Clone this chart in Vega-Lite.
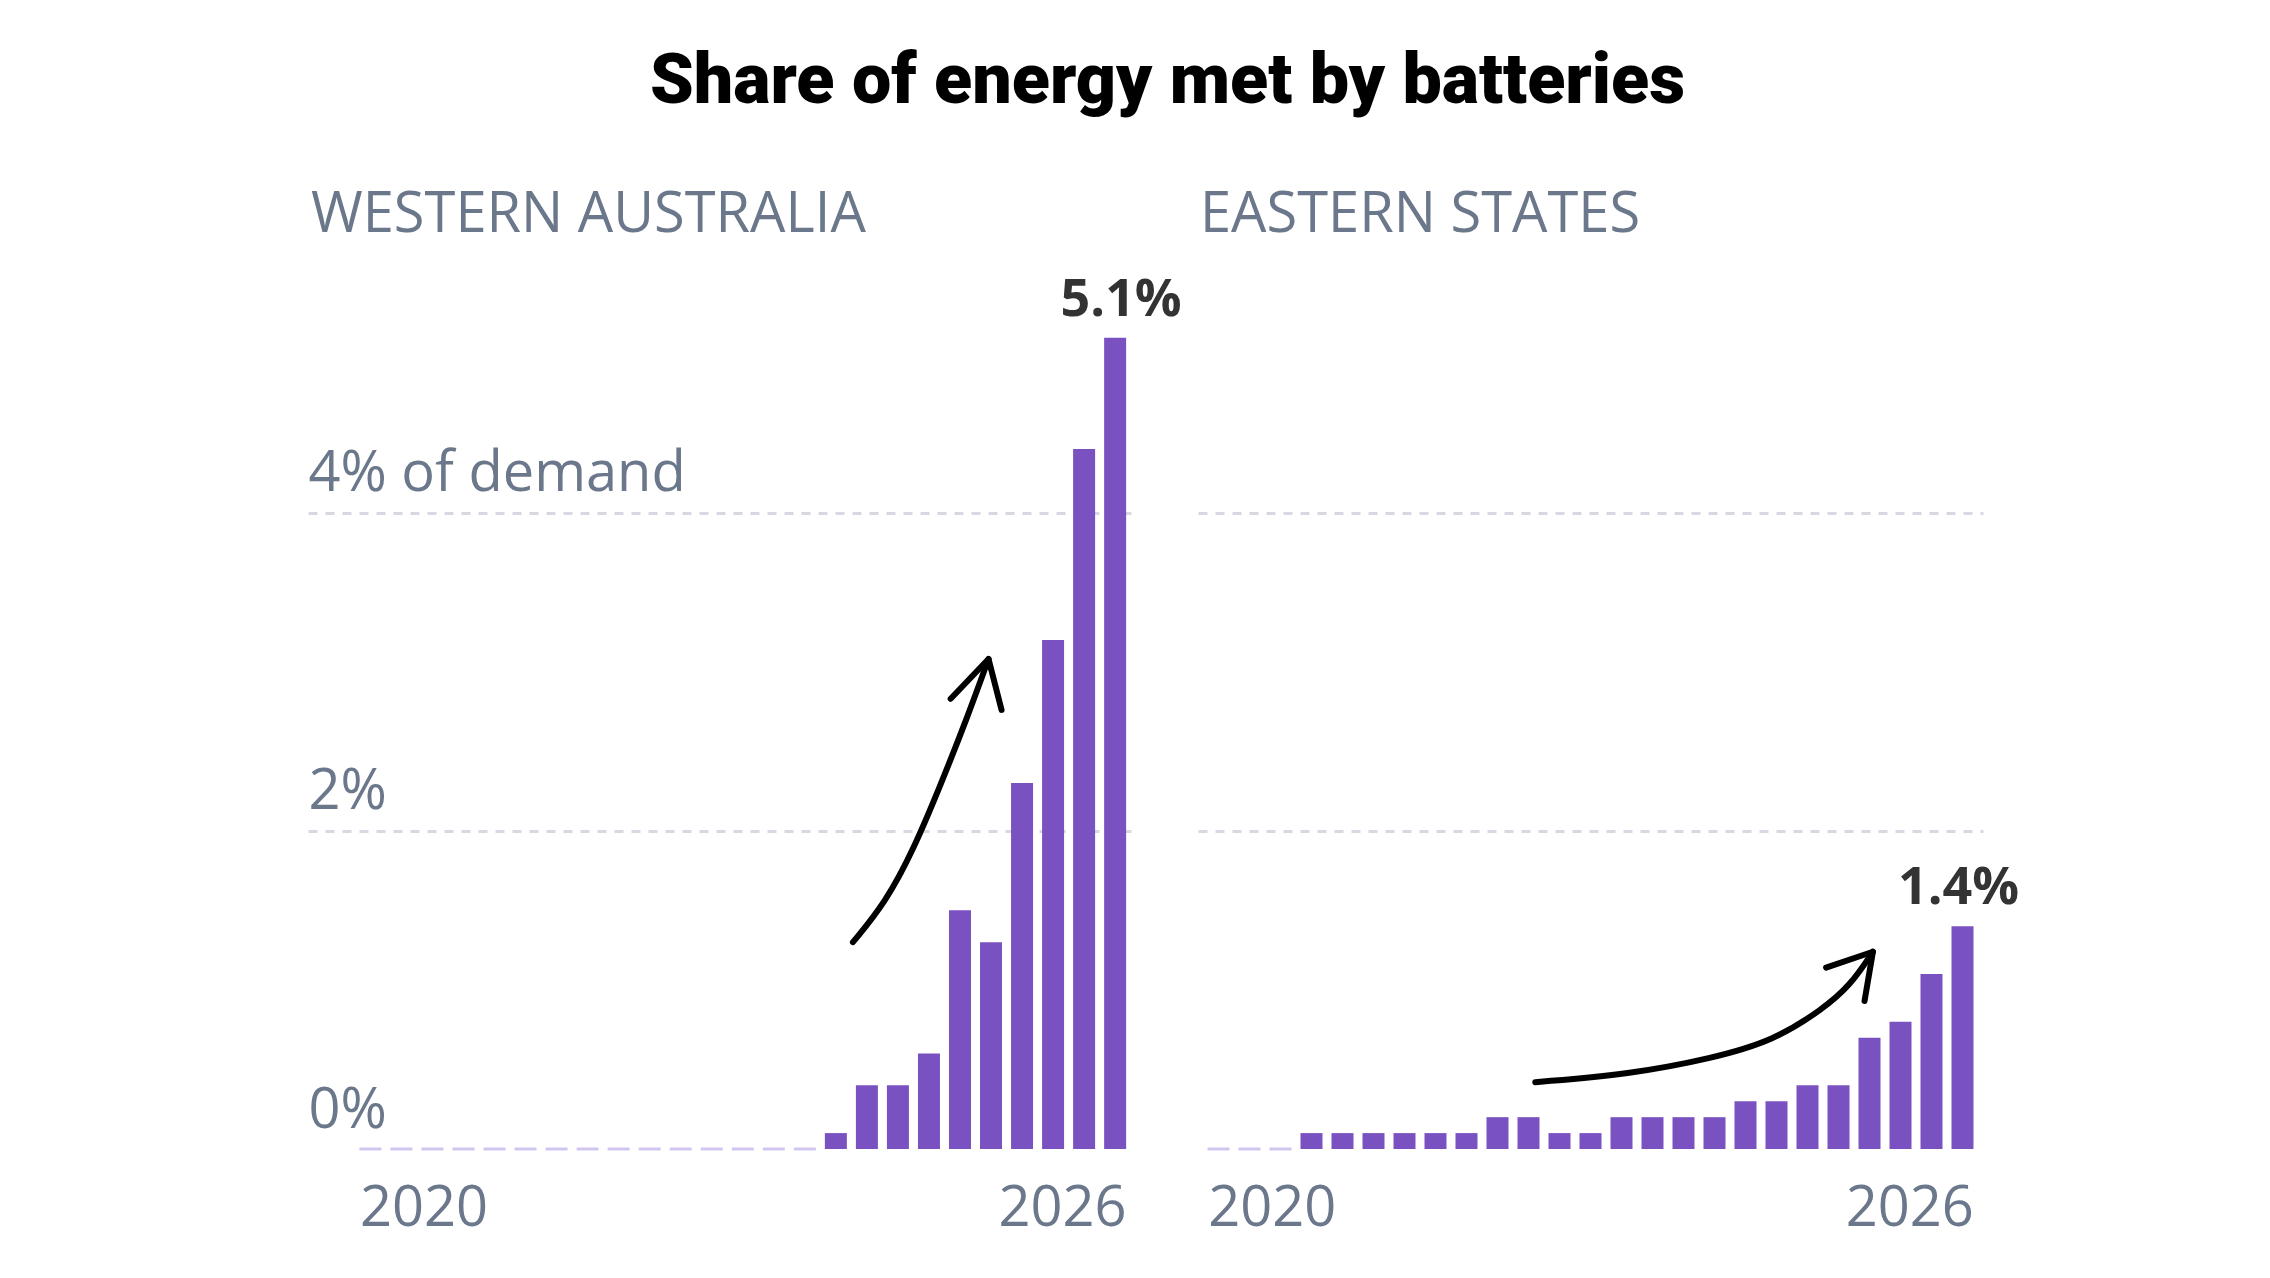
{
  "$schema": "https://vega.github.io/schema/vega-lite/v6.json",
  "description": "Share of energy met by batteries, Western Australia vs eastern states, quarterly 2020-2026.",
  "padding": {"left": 308, "top": 46, "right": 10, "bottom": 20},
  "background": "white",
  "title": {
    "text": "Share of energy met by batteries",
    "font": "Roboto",
    "fontSize": 70,
    "fontWeight": 900,
    "color": "#000000",
    "anchor": "middle",
    "baseline": "alphabetic",
    "dx": 4,
    "offset": 14
  },
  "datasets": {
    "bars": [
      {"region": "Western Australia", "quarter": "2020 Q1", "q": 0, "share": 0},
      {"region": "Western Australia", "quarter": "2020 Q2", "q": 1, "share": 0},
      {"region": "Western Australia", "quarter": "2020 Q3", "q": 2, "share": 0},
      {"region": "Western Australia", "quarter": "2020 Q4", "q": 3, "share": 0},
      {"region": "Western Australia", "quarter": "2021 Q1", "q": 4, "share": 0},
      {"region": "Western Australia", "quarter": "2021 Q2", "q": 5, "share": 0},
      {"region": "Western Australia", "quarter": "2021 Q3", "q": 6, "share": 0},
      {"region": "Western Australia", "quarter": "2021 Q4", "q": 7, "share": 0},
      {"region": "Western Australia", "quarter": "2022 Q1", "q": 8, "share": 0},
      {"region": "Western Australia", "quarter": "2022 Q2", "q": 9, "share": 0},
      {"region": "Western Australia", "quarter": "2022 Q3", "q": 10, "share": 0},
      {"region": "Western Australia", "quarter": "2022 Q4", "q": 11, "share": 0},
      {"region": "Western Australia", "quarter": "2023 Q1", "q": 12, "share": 0},
      {"region": "Western Australia", "quarter": "2023 Q2", "q": 13, "share": 0},
      {"region": "Western Australia", "quarter": "2023 Q3", "q": 14, "share": 0},
      {"region": "Western Australia", "quarter": "2023 Q4", "q": 15, "share": 0.1},
      {"region": "Western Australia", "quarter": "2024 Q1", "q": 16, "share": 0.4},
      {"region": "Western Australia", "quarter": "2024 Q2", "q": 17, "share": 0.4},
      {"region": "Western Australia", "quarter": "2024 Q3", "q": 18, "share": 0.6},
      {"region": "Western Australia", "quarter": "2024 Q4", "q": 19, "share": 1.5},
      {"region": "Western Australia", "quarter": "2025 Q1", "q": 20, "share": 1.3},
      {"region": "Western Australia", "quarter": "2025 Q2", "q": 21, "share": 2.3},
      {"region": "Western Australia", "quarter": "2025 Q3", "q": 22, "share": 3.2},
      {"region": "Western Australia", "quarter": "2025 Q4", "q": 23, "share": 4.4},
      {"region": "Western Australia", "quarter": "2026 Q1", "q": 24, "share": 5.1, "label": "5.1%"},
      {"region": "Eastern states", "quarter": "2020 Q1", "q": 0, "share": 0},
      {"region": "Eastern states", "quarter": "2020 Q2", "q": 1, "share": 0},
      {"region": "Eastern states", "quarter": "2020 Q3", "q": 2, "share": 0},
      {"region": "Eastern states", "quarter": "2020 Q4", "q": 3, "share": 0.1},
      {"region": "Eastern states", "quarter": "2021 Q1", "q": 4, "share": 0.1},
      {"region": "Eastern states", "quarter": "2021 Q2", "q": 5, "share": 0.1},
      {"region": "Eastern states", "quarter": "2021 Q3", "q": 6, "share": 0.1},
      {"region": "Eastern states", "quarter": "2021 Q4", "q": 7, "share": 0.1},
      {"region": "Eastern states", "quarter": "2022 Q1", "q": 8, "share": 0.1},
      {"region": "Eastern states", "quarter": "2022 Q2", "q": 9, "share": 0.2},
      {"region": "Eastern states", "quarter": "2022 Q3", "q": 10, "share": 0.2},
      {"region": "Eastern states", "quarter": "2022 Q4", "q": 11, "share": 0.1},
      {"region": "Eastern states", "quarter": "2023 Q1", "q": 12, "share": 0.1},
      {"region": "Eastern states", "quarter": "2023 Q2", "q": 13, "share": 0.2},
      {"region": "Eastern states", "quarter": "2023 Q3", "q": 14, "share": 0.2},
      {"region": "Eastern states", "quarter": "2023 Q4", "q": 15, "share": 0.2},
      {"region": "Eastern states", "quarter": "2024 Q1", "q": 16, "share": 0.2},
      {"region": "Eastern states", "quarter": "2024 Q2", "q": 17, "share": 0.3},
      {"region": "Eastern states", "quarter": "2024 Q3", "q": 18, "share": 0.3},
      {"region": "Eastern states", "quarter": "2024 Q4", "q": 19, "share": 0.4},
      {"region": "Eastern states", "quarter": "2025 Q1", "q": 20, "share": 0.4},
      {"region": "Eastern states", "quarter": "2025 Q2", "q": 21, "share": 0.7},
      {"region": "Eastern states", "quarter": "2025 Q3", "q": 22, "share": 0.8},
      {"region": "Eastern states", "quarter": "2025 Q4", "q": 23, "share": 1.1},
      {"region": "Eastern states", "quarter": "2026 Q1", "q": 24, "share": 1.4, "label": "1.4%"}
    ],
    "arrows": [
      {"region": "Western Australia", "part": "shaft", "step": 1, "q": 15.55, "share": 1.3},
      {"region": "Western Australia", "part": "shaft", "step": 2, "q": 16.6, "share": 1.55},
      {"region": "Western Australia", "part": "shaft", "step": 3, "q": 17.5, "share": 1.88},
      {"region": "Western Australia", "part": "shaft", "step": 4, "q": 18.4, "share": 2.3},
      {"region": "Western Australia", "part": "shaft", "step": 5, "q": 19.25, "share": 2.72},
      {"region": "Western Australia", "part": "shaft", "step": 6, "q": 19.92, "share": 3.08},
      {"region": "Western Australia", "part": "head", "step": 1, "q": 18.7, "share": 2.83},
      {"region": "Western Australia", "part": "head", "step": 2, "q": 19.92, "share": 3.08},
      {"region": "Western Australia", "part": "head", "step": 3, "q": 20.34, "share": 2.76},
      {"region": "Eastern states", "part": "shaft", "step": 1, "q": 10.22, "share": 0.42},
      {"region": "Eastern states", "part": "shaft", "step": 2, "q": 13.26, "share": 0.47},
      {"region": "Eastern states", "part": "shaft", "step": 3, "q": 15.92, "share": 0.57},
      {"region": "Eastern states", "part": "shaft", "step": 4, "q": 17.9, "share": 0.68},
      {"region": "Eastern states", "part": "shaft", "step": 5, "q": 19.5, "share": 0.88},
      {"region": "Eastern states", "part": "shaft", "step": 6, "q": 20.39, "share": 1.03},
      {"region": "Eastern states", "part": "shaft", "step": 7, "q": 21.11, "share": 1.24},
      {"region": "Eastern states", "part": "head", "step": 1, "q": 19.6, "share": 1.14},
      {"region": "Eastern states", "part": "head", "step": 2, "q": 21.11, "share": 1.24},
      {"region": "Eastern states", "part": "head", "step": 3, "q": 20.84, "share": 0.93}
    ]
  },
  "bounds": "flush",
  "spacing": 67,
  "hconcat": [
    {
      "width": 823,
      "height": 875,
      "title": {"text": "WESTERN AUSTRALIA", "dx": 3},
      "encoding": {
        "x": {
          "field": "q", "type": "quantitative",
          "scale": {"domain": [-1.85, 24.35], "nice": false, "zero": false},
          "axis": {
            "values": [-0.35, 24.35],
            "labelExpr": "datum.value < 12 ? '2020' : '2026'",
            "labelAlign": {"condition": {"test": "datum.value < 12", "value": "left"}, "value": "right"},
            "labelBaseline": "alphabetic",
            "labelPadding": 76,
            "grid": false,
            "title": null
          }
        },
        "y": {
          "field": "share", "type": "quantitative",
          "scale": {"domain": [0, 5.5], "nice": false},
          "axis": {
            "values": [0, 2, 4],
            "labelExpr": "datum.value === 4 ? '4% of demand' : datum.value + '%'",
            "labelAlign": "left",
            "labelBaseline": "alphabetic",
            "labelPadding": 0,
            "labelOffset": -22,
            "labelLimit": 0,
            "grid": true,
            "gridColor": {"condition": {"test": "datum.value === 0", "value": "transparent"}, "value": "#d6d9e1"},
            "title": null
          }
        }
      },
      "layer": [
        {
          "data": {"name": "bars"},
          "transform": [{"filter": "datum.region === 'Western Australia'"}],
          "mark": {"type": "bar", "width": 22, "color": "#7a51c0"}
        },
        {
          "data": {"name": "bars"},
          "transform": [{"filter": "datum.region === 'Western Australia' && datum.share === 0"}],
          "mark": {"type": "tick", "orient": "horizontal", "size": 22, "thickness": 3, "color": "#d2c6f0", "opacity": 1}
        },
        {
          "data": {"name": "bars"},
          "transform": [{"filter": "datum.region === 'Western Australia' && datum.label"}],
          "mark": {"type": "text", "font": "Open Sans", "fontSize": 52, "fontWeight": "bold", "color": "#333333", "baseline": "alphabetic", "align": "center", "dx": 6, "dy": -22},
          "encoding": {"text": {"field": "label"}}
        },
        {
          "data": {"name": "arrows"},
          "transform": [{"filter": "datum.region === 'Western Australia' && datum.part === 'shaft'"}],
          "mark": {"type": "line", "interpolate": "basis", "color": "#000000", "strokeWidth": 6, "strokeCap": "round"},
          "encoding": {"order": {"field": "step"}}
        },
        {
          "data": {"name": "arrows"},
          "transform": [{"filter": "datum.region === 'Western Australia' && datum.part === 'head'"}],
          "mark": {"type": "line", "color": "#000000", "strokeWidth": 6, "strokeCap": "round", "strokeJoin": "round"},
          "encoding": {"order": {"field": "step"}}
        }
      ]
    },
    {
      "width": 785,
      "height": 875,
      "title": {"text": "EASTERN STATES", "dx": 2},
      "encoding": {
        "x": {
          "field": "q", "type": "quantitative",
          "scale": {"domain": [-0.5, 24.5], "nice": false, "zero": false},
          "axis": {
            "values": [-0.35, 24.35],
            "labelExpr": "datum.value < 12 ? '2020' : '2026'",
            "labelAlign": {"condition": {"test": "datum.value < 12", "value": "left"}, "value": "right"},
            "labelBaseline": "alphabetic",
            "labelPadding": 76,
            "grid": false,
            "title": null
          }
        },
        "y": {
          "field": "share", "type": "quantitative",
          "scale": {"domain": [0, 5.5], "nice": false},
          "axis": {"values": [2, 4], "labels": false, "grid": true, "gridColor": "#d6d9e1", "title": null}
        }
      },
      "layer": [
        {
          "data": {"name": "bars"},
          "transform": [{"filter": "datum.region === 'Eastern states'"}],
          "mark": {"type": "bar", "width": 22, "color": "#7a51c0"}
        },
        {
          "data": {"name": "bars"},
          "transform": [{"filter": "datum.region === 'Eastern states' && datum.share === 0"}],
          "mark": {"type": "tick", "orient": "horizontal", "size": 22, "thickness": 3, "color": "#d2c6f0", "opacity": 1}
        },
        {
          "data": {"name": "bars"},
          "transform": [{"filter": "datum.region === 'Eastern states' && datum.label"}],
          "mark": {"type": "text", "font": "Open Sans", "fontSize": 52, "fontWeight": "bold", "color": "#333333", "baseline": "alphabetic", "align": "center", "dx": -4, "dy": -22},
          "encoding": {"text": {"field": "label"}}
        },
        {
          "data": {"name": "arrows"},
          "transform": [{"filter": "datum.region === 'Eastern states' && datum.part === 'shaft'"}],
          "mark": {"type": "line", "interpolate": "basis", "color": "#000000", "strokeWidth": 6, "strokeCap": "round"},
          "encoding": {"order": {"field": "step"}}
        },
        {
          "data": {"name": "arrows"},
          "transform": [{"filter": "datum.region === 'Eastern states' && datum.part === 'head'"}],
          "mark": {"type": "line", "color": "#000000", "strokeWidth": 6, "strokeCap": "round", "strokeJoin": "round"},
          "encoding": {"order": {"field": "step"}}
        }
      ]
    }
  ],
  "config": {
    "view": {"stroke": null},
    "axis": {
      "domain": false,
      "ticks": false,
      "tickSize": 0,
      "labelFont": "Open Sans",
      "labelFontSize": 56,
      "labelColor": "#6b778a",
      "gridColor": "#d6d9e1",
      "gridDash": [9, 8],
      "gridWidth": 3
    },
    "title": {
      "font": "Open Sans",
      "fontSize": 56,
      "fontWeight": "normal",
      "color": "#6b778a",
      "anchor": "start",
      "baseline": "alphabetic",
      "offset": 30
    }
  }
}
